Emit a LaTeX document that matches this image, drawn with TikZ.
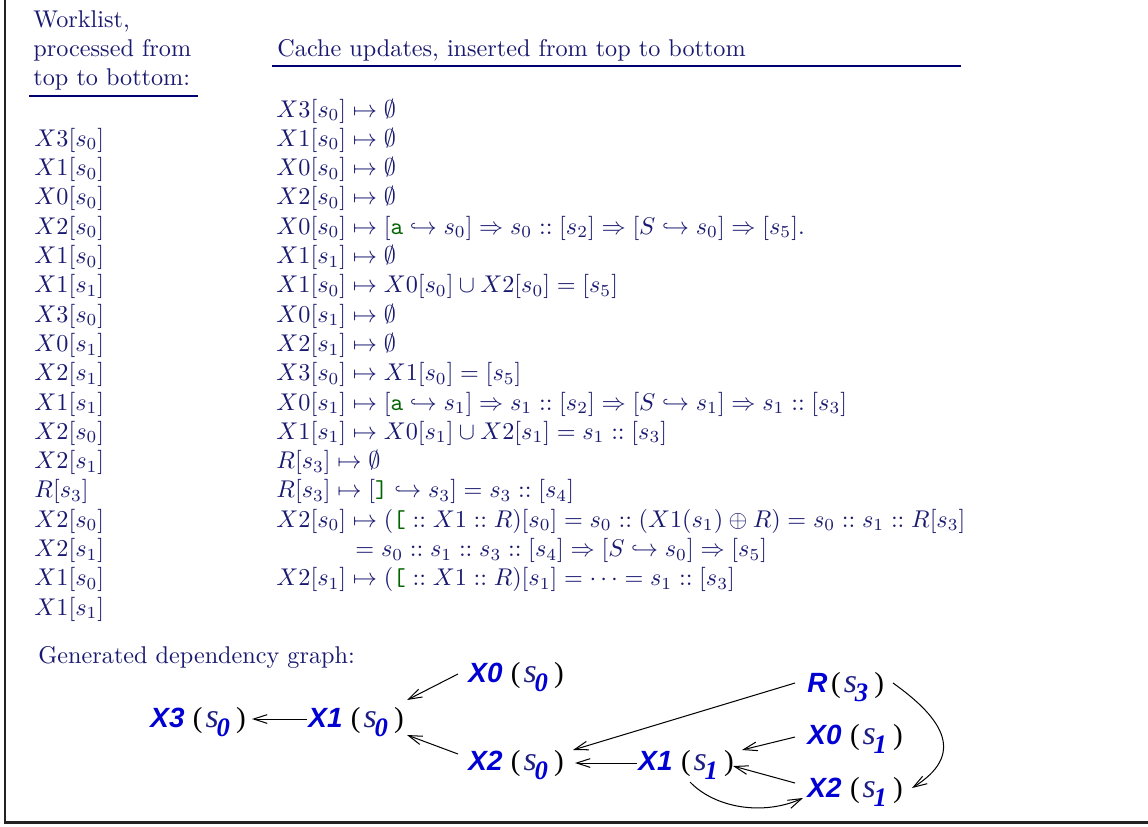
\documentclass[tikz,border=0pt]{standalone}
\usepackage{fontspec}
\usetikzlibrary{arrows.meta,calc}
\newfontfamily\gsans{Liberation Sans}
\newfontfamily\gserif{Liberation Serif}
\definecolor{txt}{RGB}{25,25,112}
\definecolor{rulec}{RGB}{0,0,110}
\definecolor{grn}{RGB}{0,100,0}
\definecolor{gblue}{RGB}{0,0,210}
\definecolor{snavy}{RGB}{30,30,130}
\definecolor{framec}{RGB}{35,35,35}
\newcommand\tg[1]{\textcolor{grn}{\texttt{#1}}}
\newcommand\gn[3]{{\gsans\bfseries\itshape\fontsize{11.5}{12}\selectfont\color{gblue}#1}\hspace{#3}{\gserif\fontsize{12}{12}\selectfont (}\hspace{1.2pt}{\gserif\itshape\fontsize{14}{14}\selectfont\color{snavy}s}\hspace{-0.9pt}\raisebox{-4.1pt}{\gserif\bfseries\itshape\fontsize{11}{12}\selectfont\color{gblue}#2}\hspace{2.6pt}{\gserif\fontsize{12}{12}\selectfont )}}
\tikzset{
  wl/.style={anchor=base west, inner sep=0pt, text=txt, font=\normalsize},
  gnode/.style={anchor=base west, inner sep=0pt, text=black},
  edge/.style={draw=black, line width=0.42pt, -{Straight Barb[length=5.6pt,width=3.6pt,line width=0.42pt]}},
  hrule/.style={draw=rulec, line width=0.85pt}
}
\begin{document}
\begin{tikzpicture}[x=0.41322pt,y=-0.41322pt]
\useasboundingbox (0,0) rectangle (1148,826);
\draw[framec, line width=0.85pt] (5,0) -- (5,822.5) -- (1148,822.5);
% headers
\node[wl] (h1) at (33,27) {Worklist,};
\node[wl] (h2) at (33,56) {processed from};
\node[wl] (h3) at (33,85) {top to bottom:};
\draw[hrule] (29,96) -- (198,96);
\node[wl] (h4) at (277,56) {Cache updates, inserted from top to bottom};
\draw[hrule] (272,66) -- (961,66);
% worklist
\foreach \t [count=\k] in {X3[s_0],X1[s_0],X0[s_0],X2[s_0],X1[s_0],X1[s_1],X3[s_0],X0[s_1],X2[s_1],X1[s_1],X2[s_0],X2[s_1],R[s_3],X2[s_0],X2[s_1],X1[s_0],X1[s_1]}
  \node[wl] (w\k) at (34,{117+29.3*\k}) {$\t$};
% cache updates
\node[wl] (c0) at (276,{117+29.3*0}) {$X3[s_0]\mapsto\emptyset$};
\node[wl] (c1) at (276,{117+29.3*1}) {$X1[s_0]\mapsto\emptyset$};
\node[wl] (c2) at (276,{117+29.3*2}) {$X0[s_0]\mapsto\emptyset$};
\node[wl] (c3) at (276,{117+29.3*3}) {$X2[s_0]\mapsto\emptyset$};
\node[wl] (c4) at (276,{117+29.3*4}) {$X0[s_0]\mapsto[\tg{a}\hookrightarrow s_0]\Rightarrow s_0::[s_2]\Rightarrow[S\hookrightarrow s_0]\Rightarrow[s_5].$};
\node[wl] (c5) at (276,{117+29.3*5}) {$X1[s_1]\mapsto\emptyset$};
\node[wl] (c6) at (276,{117+29.3*6}) {$X1[s_0]\mapsto X0[s_0]\cup X2[s_0]=[s_5]$};
\node[wl] (c7) at (276,{117+29.3*7}) {$X0[s_1]\mapsto\emptyset$};
\node[wl] (c8) at (276,{117+29.3*8}) {$X2[s_1]\mapsto\emptyset$};
\node[wl] (c9) at (276,{117+29.3*9}) {$X3[s_0]\mapsto X1[s_0]=[s_5]$};
\node[wl] (c10) at (276,{117+29.3*10}) {$X0[s_1]\mapsto[\tg{a}\hookrightarrow s_1]\Rightarrow s_1::[s_2]\Rightarrow[S\hookrightarrow s_1]\Rightarrow s_1::[s_3]$};
\node[wl] (c11) at (276,{117+29.3*11}) {$X1[s_1]\mapsto X0[s_1]\cup X2[s_1]=s_1::[s_3]$};
\node[wl] (c12) at (276,{117+29.3*12}) {$R[s_3]\mapsto\emptyset$};
\node[wl] (c13) at (276,{117+29.3*13}) {$R[s_3]\mapsto[\tg{]}\hookrightarrow s_3]=s_3::[s_4]$};
\node[wl] (c14) at (276,{117+29.3*14}) {$X2[s_0]\mapsto(\tg{[}::X1::R)[s_0]=s_0::(X1(s_1)\oplus R)=s_0::s_1::R[s_3]$};
\node[wl] (c15) at (355,{117+29.3*15}) {$=s_0::s_1::s_3::[s_4]\Rightarrow[S\hookrightarrow s_0]\Rightarrow[s_5]$};
\node[wl] (c16) at (276,{117+29.3*16}) {$X2[s_1]\mapsto(\tg{[}::X1::R)[s_1]=\cdots=s_1::[s_3]$};
% graph
\node[wl] (gh) at (38,663) {Generated dependency graph:};
\node[gnode] (x3a) at (150,727) {\gn{X3}{0}{3.5pt}};
\node[gnode] (x1a) at (308,727) {\gn{X1}{0}{3.5pt}};
\node[gnode] (x0a) at (468,682) {\gn{X0}{0}{3.5pt}};
\node[gnode] (x2a) at (468,770) {\gn{X2}{0}{3.5pt}};
\node[gnode] (x1b) at (638,770) {\gn{X1}{1}{3.5pt}};
\node[gnode] (r3) at (807,692) {\gn{R}{3}{1.5pt}};
\node[gnode] (x0b) at (807,744) {\gn{X0}{1}{3.5pt}};
\node[gnode] (x2b) at (807,797) {\gn{X2}{1}{3.5pt}};
\draw[edge] ($(x1a.base west)+(-1,-8)$) -- ($(x3a.base west)+(102,-8)$);
\draw[edge] ($(x0a.base west)+(-10,-8)$) -- ($(x1a.base west)+(99,-27)$);
\draw[edge] ($(x2a.base west)+(-10,-16)$) -- ($(x1a.base west)+(99,8)$);
\draw[edge] ($(x1b.base west)+(-1,-7)$) -- ($(x2a.base west)+(107,-7)$);
\draw[edge] ($(r3.base west)+(-12,-9)$) -- ($(x2a.base west)+(105,-20)$);
\draw[edge] ($(x0b.base west)+(-12,-7)$) -- ($(x1b.base west)+(104,-20)$);
\draw[edge] ($(x2b.base west)+(-12,-14)$) -- ($(x1b.base west)+(95,-4)$);
\draw[edge] ($(x1b.base west)+(52,12)$) .. controls +(25,26) and +(-40,18) .. ($(x2b.base west)+(-4,1)$);
\draw[edge] ($(r3.base west)+(86,-9)$) .. controls +(52,37) and +(53,-33) .. ($(x2b.base west)+(105,-9)$);
\end{tikzpicture}
\end{document}
